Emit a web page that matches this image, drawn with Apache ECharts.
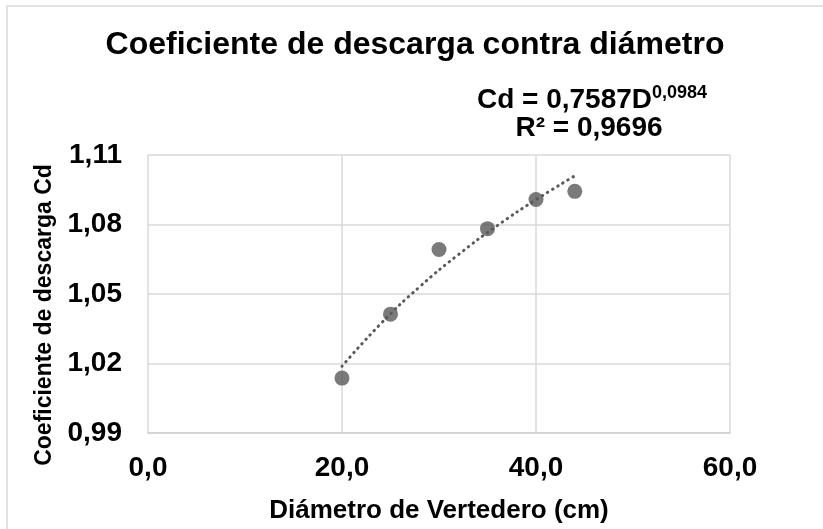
<!DOCTYPE html>
<html>
<head>
<meta charset="utf-8">
<script src="https://cdn.jsdelivr.net/npm/echarts@6/dist/echarts.min.js"></script>
<style>
  html, body { margin: 0; padding: 0; background: #fff; }
  #main { width: 823px; height: 529px; }
</style>
</head>
<body>
<div id="main"></div>
<script>
// measured points (diameter in cm, discharge coefficient)
const diametro = [20, 25, 30, 35, 40, 44];
const cd = [1.0137, 1.0413, 1.0692, 1.0782, 1.0908, 1.0943];

// power trendline as drawn on the chart (Cd = 0,7587 D^0,0984)
const trendD = [20, 24, 28, 32, 36, 40, 44];
const trendCd = [1.0188, 1.0372, 1.0531, 1.0670, 1.0795, 1.0907, 1.1010];

const xTicks = [0, 20, 40, 60];
const yTicks = [0.99, 1.02, 1.05, 1.08, 1.11];

const font = 'Liberation Sans, Arial, sans-serif';
const chart = echarts.init(document.getElementById('main'));

chart.setOption({
    animation: false,
    backgroundColor: '#fff',
    grid: { left: 148, right: 93, top: 155, bottom: 96 },
    xAxis: {
        type: 'value',
        min: xTicks[0],
        max: xTicks[xTicks.length - 1],
        interval: xTicks[1] - xTicks[0],
        name: 'Diámetro de Vertedero (cm)',
        nameLocation: 'middle',
        nameGap: 65,
        nameTextStyle: { fontFamily: font, fontWeight: 'bold', fontSize: 26, color: '#000' },
        axisLine: { show: true, lineStyle: { color: '#cfcfcf', width: 1.5 } },
        axisTick: { show: false },
        splitLine: { show: true, lineStyle: { color: '#d9d9d9', width: 1.5 } },
        axisLabel: {
            margin: 21,
            fontFamily: font, fontWeight: 'bold', fontSize: 28, color: '#000',
            formatter: v => v.toFixed(1).replace('.', ',')
        }
    },
    yAxis: {
        type: 'value',
        min: yTicks[0],
        max: yTicks[yTicks.length - 1],
        interval: 0.03,
        name: 'Coeficiente de descarga Cd',
        nameLocation: 'middle',
        nameGap: 84,
        nameTextStyle: { fontFamily: font, fontWeight: 'bold', fontSize: 23, color: '#000', padding: [0, 42, 0, 0] },
        axisLine: { show: false },
        axisTick: { show: false },
        splitLine: { show: true, lineStyle: { color: '#d9d9d9', width: 1.5 } },
        axisLabel: {
            margin: 26,
            fontFamily: font, fontWeight: 'bold', fontSize: 28, color: '#000',
            formatter: v => v.toFixed(2).replace('.', ',')
        }
    },
    series: [{
        type: 'line',
        data: trendD.map((d, i) => [d, trendCd[i]]),
        smooth: true,
        showSymbol: false,
        symbol: 'none',
        lineStyle: { color: '#595959', width: 3, type: [0.5, 5.5], cap: 'round' },
        z: 2
    }, {
        type: 'scatter',
        data: diametro.map((d, i) => [d, cd[i]]),
        symbol: 'circle',
        symbolSize: 15,
        itemStyle: { color: '#595959' },
        z: 3
    }],
    graphic: [{
        type: 'rect',
        shape: { x: 7, y: 6, width: 840, height: 560 },
        style: { fill: null, stroke: '#d9d9d9', lineWidth: 1.5 },
        silent: true
    }, {
        type: 'text',
        x: 415, y: 45,
        style: {
            text: 'Coeficiente de descarga contra diámetro',
            fontFamily: font, fontWeight: 'bold', fontSize: 32, fill: '#000',
            align: 'center', verticalAlign: 'middle'
        }
    }, {
        type: 'text',
        x: 592, y: 100,
        style: {
            text: '{b|Cd = 0,7587D}{s|0,0984}',
            align: 'center', verticalAlign: 'middle',
            rich: {
                b: { fontFamily: font, fontWeight: 'bold', fontSize: 28, fill: '#000', lineHeight: 32 },
                s: { fontFamily: font, fontWeight: 'bold', fontSize: 18, fill: '#000', lineHeight: 32, verticalAlign: 'top' }
            }
        }
    }, {
        type: 'text',
        x: 589, y: 128,
        style: {
            text: 'R² = 0,9696',
            fontFamily: font, fontWeight: 'bold', fontSize: 28, fill: '#000',
            align: 'center', verticalAlign: 'middle'
        }
    }]
});
</script>
</body>
</html>
